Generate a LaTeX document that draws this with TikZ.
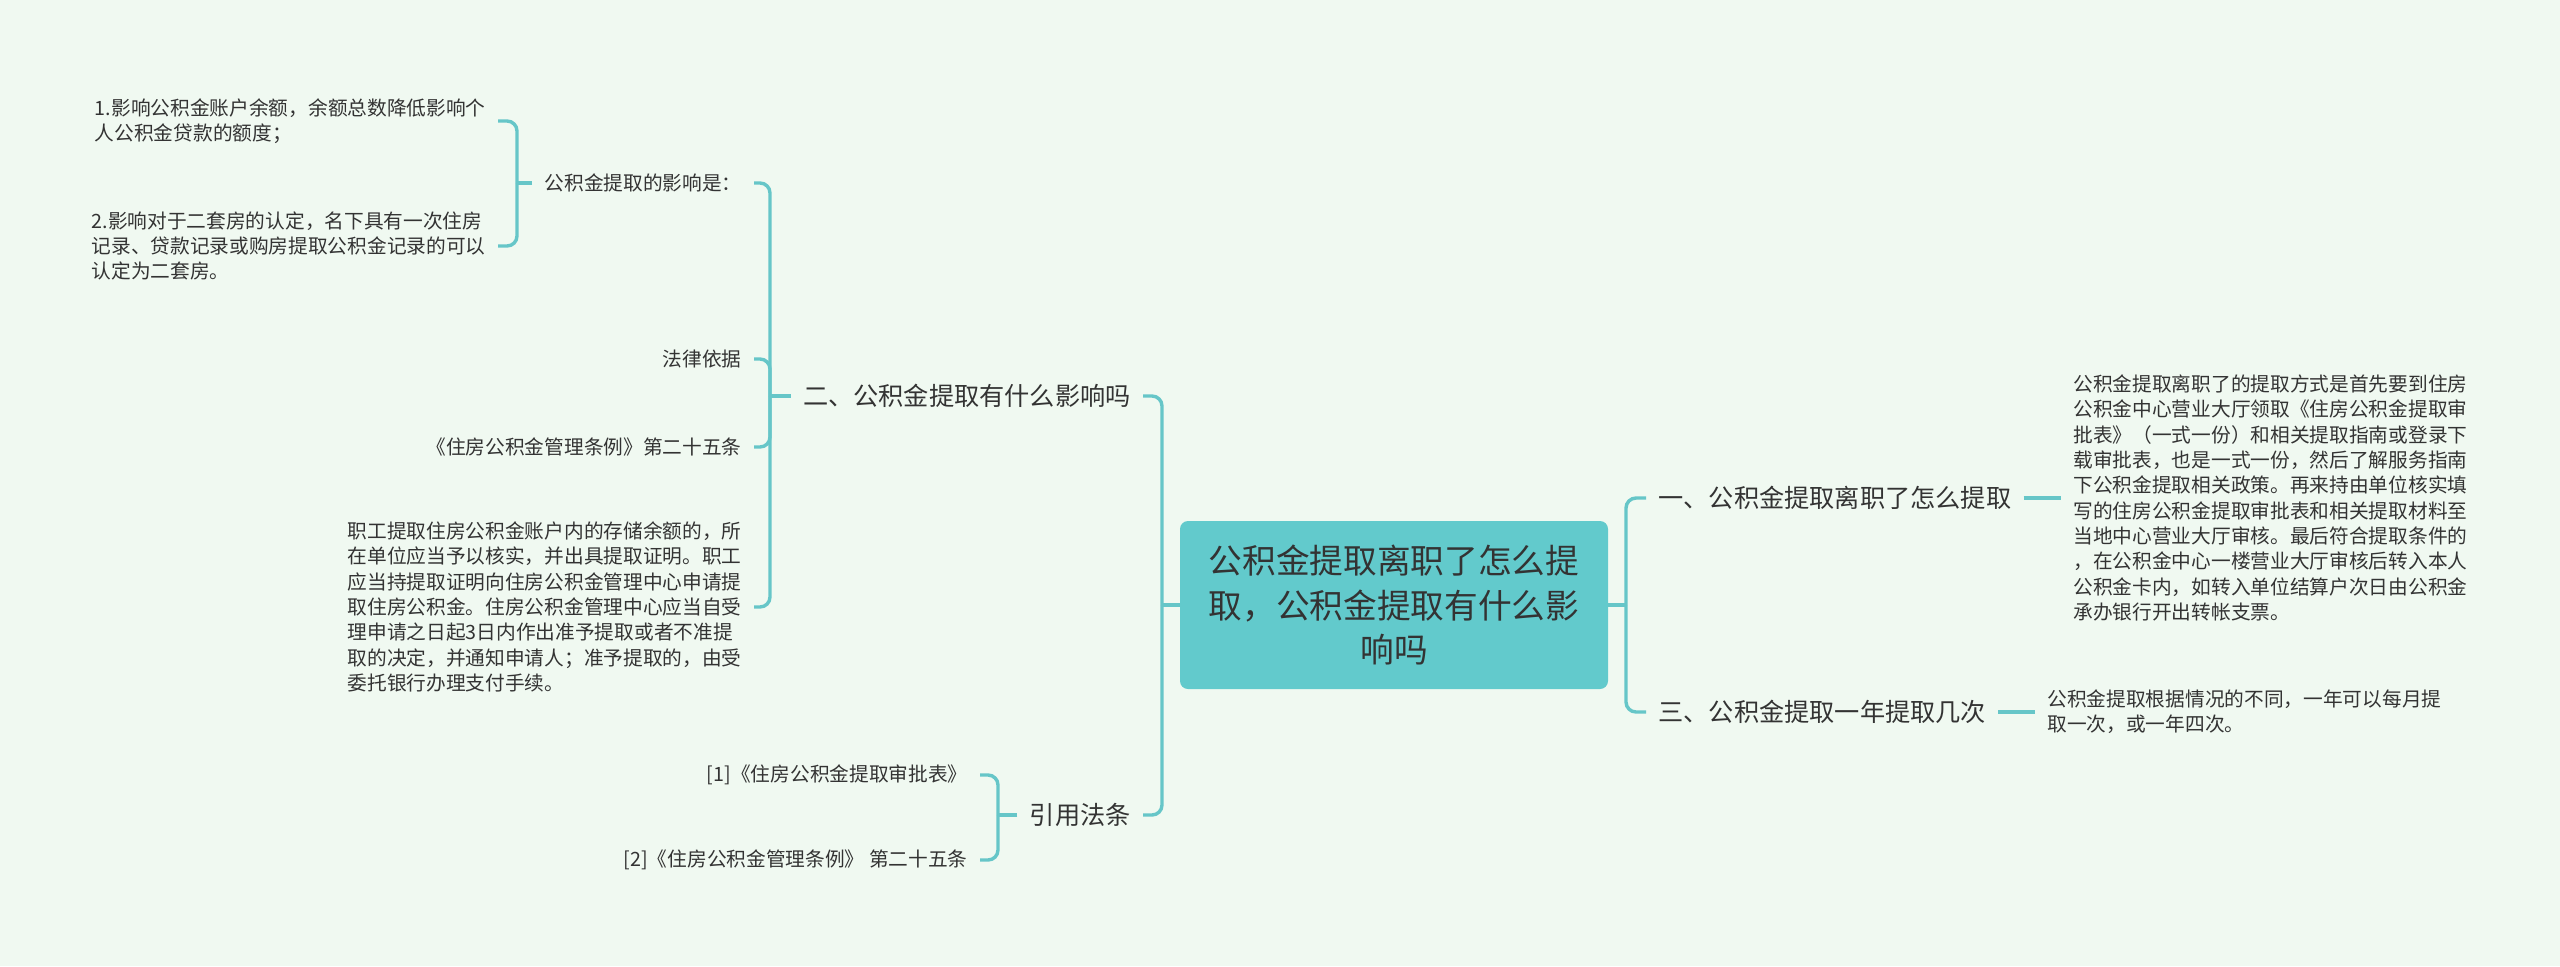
\documentclass[tikz,border=0pt]{standalone}
\usepackage{fontspec}
\setmainfont{Noto Sans CJK SC}
\usepackage{tikz}
\definecolor{bgmint}{HTML}{F0F9F1}
\definecolor{tealline}{HTML}{66C6C8}
\definecolor{tealbox}{HTML}{62CACC}
\definecolor{inkgray}{HTML}{333333}
\tikzstyle{rootbox}=[rectangle,fill=tealbox,rounded corners=4pt,minimum width=214pt,minimum height=84pt,align=center,text=inkgray,font=\fontsize{16.85pt}{22.25pt}\selectfont]
\tikzstyle{topic}=[inner xsep=6pt,inner ysep=2pt,text=inkgray,font=\fontsize{12.6pt}{15pt}\selectfont]
\tikzstyle{leaf}=[inner xsep=6pt,inner ysep=2pt,align=left,text=inkgray,font=\fontsize{9.85pt}{12.65pt}\selectfont]
\tikzstyle{link}=[draw=tealline,line width=1.7pt,rounded corners=5pt]

\begin{document}
\begin{tikzpicture}[x=0.5pt,y=-0.5pt]
\fill[bgmint] (0,0) rectangle (2560,966);
\useasboundingbox (0,0) rectangle (2560,966);
\node[rootbox] (R) at (1394,605) {公积金提取离职了怎么提\\取，公积金提取有什么影\\响吗};
\node[topic,anchor=west] (T1) at (1646,498) {一、公积金提取离职了怎么提取};
\node[topic,anchor=west] (T3) at (1646,712) {三、公积金提取一年提取几次};
\node[leaf,anchor=west] (D1) at (2061,498) {公积金提取离职了的提取方式是首先要到住房\\公积金中心营业大厅领取《住房公积金提取审\\批表》（一式一份）和相关提取指南或登录下\\载审批表，也是一式一份，然后了解服务指南\\下公积金提取相关政策。再来持由单位核实填\\写的住房公积金提取审批表和相关提取材料至\\当地中心营业大厅审核。最后符合提取条件的\\，在公积金中心一楼营业大厅审核后转入本人\\公积金卡内，如转入单位结算户次日由公积金\\承办银行开出转帐支票。};
\node[leaf,anchor=west] (D3) at (2035,712) {公积金提取根据情况的不同，一年可以每月提\\取一次，或一年四次。};
\node[topic,anchor=east] (T2) at (1143,396) {二、公积金提取有什么影响吗};
\node[topic,anchor=east] (Q) at (1143,815) {引用法条};
\node[leaf,anchor=east] (Q1) at (980,775) {[1]《住房公积金提取审批表》};
\node[leaf,anchor=east] (Q2) at (980,860) {[2]《住房公积金管理条例》 第二十五条};
\node[leaf,anchor=east] (I) at (754,183) {公积金提取的影响是：};
\node[leaf,anchor=east] (I1) at (498,121) {1.影响公积金账户余额，余额总数降低影响个\\人公积金贷款的额度；};
\node[leaf,anchor=east] (I2) at (498,246) {2.影响对于二套房的认定，名下具有一次住房\\记录、贷款记录或购房提取公积金记录的可以\\认定为二套房。};
\node[leaf,anchor=east] (L1) at (754,359) {法律依据};
\node[leaf,anchor=east] (L2) at (754,447) {《住房公积金管理条例》第二十五条};
\node[leaf,anchor=east] (L3) at (754,607) {职工提取住房公积金账户内的存储余额的，所\\在单位应当予以核实，并出具提取证明。职工\\应当持提取证明向住房公积金管理中心申请提\\取住房公积金。住房公积金管理中心应当自受\\理申请之日起3日内作出准予提取或者不准提\\取的决定，并通知申请人；准予提取的，由受\\委托银行办理支付手续。};
\coordinate (RJr) at (1626,605);\coordinate (RJl) at (1162,605);
\coordinate (J2) at (770,396);\coordinate (JI) at (517,183);\coordinate (JQ) at (998,815);
\draw[link](R.east)--(RJr);\draw[link](RJr)|-(T1.west);\draw[link](RJr)|-(T3.west);
\draw[link](T1)--(D1);\draw[link](T3)--(D3);
\draw[link](R.west)--(RJl);\draw[link](RJl)|-(T2.east);\draw[link](RJl)|-(Q.east);
\draw[link](T2.west)--(J2);\draw[link](J2)|-(I.east);\draw[link](J2)|-(L1.east);\draw[link](J2)|-(L2.east);\draw[link](J2)|-(L3.east);
\draw[link](I.west)--(JI);\draw[link](JI)|-(I1.east);\draw[link](JI)|-(I2.east);
\draw[link](Q.west)--(JQ);\draw[link](JQ)|-(Q1.east);\draw[link](JQ)|-(Q2.east);
\end{tikzpicture}
\end{document}
